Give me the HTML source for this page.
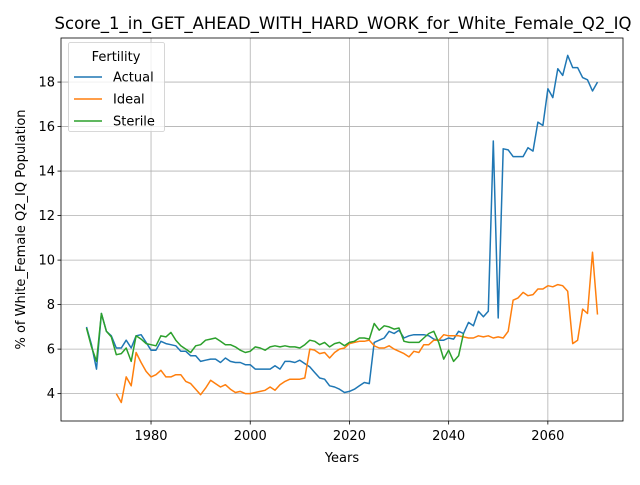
<!DOCTYPE html>
<html><head><meta charset="utf-8"><style>
body{margin:0;background:#fff;font-family:"Liberation Sans","DejaVu Sans",sans-serif;}
svg text{font-family:"DejaVu Sans","Liberation Sans",sans-serif;}
</style></head><body>
<svg id="chart" width="640" height="480" viewBox="0 0 640 480">
<rect width="640" height="480" fill="#fff"/>
<g id="grid"></g><g id="axes"></g><g id="series"></g><g id="legend"></g>
</svg>
<script>
const years=[];for(let y=1967;y<=2070;y++)years.push(y);
const actual=[7.0,6.2,5.1,7.6,6.8,6.6,6.05,6.05,6.4,6.05,6.6,6.65,6.3,5.95,5.95,6.35,6.25,6.2,6.15,5.9,5.9,5.7,5.7,5.45,5.5,5.55,5.55,5.4,5.6,5.45,5.4,5.4,5.3,5.3,5.1,5.1,5.1,5.1,5.25,5.1,5.45,5.45,5.4,5.5,5.35,5.2,4.95,4.7,4.65,4.35,4.3,4.2,4.05,4.1,4.2,4.35,4.5,4.45,6.3,6.4,6.5,6.8,6.7,6.85,6.5,6.6,6.65,6.65,6.65,6.6,6.45,6.4,6.4,6.5,6.45,6.8,6.7,7.2,7.05,7.7,7.45,7.7,15.35,7.4,15.0,14.95,14.65,14.65,14.65,15.05,14.9,16.2,16.05,17.7,17.3,18.6,18.3,19.2,18.65,18.65,18.2,18.1,17.6,18.0];
const idealStart=1973;
const ideal=[4.0,3.6,4.75,4.35,5.85,5.4,5.0,4.75,4.85,5.05,4.75,4.75,4.85,4.85,4.55,4.45,4.2,3.95,4.25,4.6,4.45,4.3,4.4,4.2,4.05,4.1,4.0,4.0,4.05,4.1,4.15,4.3,4.15,4.4,4.55,4.65,4.65,4.65,4.7,6.0,5.95,5.8,5.85,5.6,5.85,6.0,6.05,6.25,6.3,6.35,6.35,6.4,6.15,6.05,6.05,6.15,6.0,5.9,5.8,5.65,5.9,5.85,6.2,6.2,6.4,6.4,6.65,6.6,6.6,6.6,6.55,6.5,6.5,6.6,6.55,6.6,6.5,6.55,6.5,6.8,8.2,8.3,8.55,8.4,8.45,8.7,8.7,8.85,8.8,8.9,8.85,8.6,6.25,6.4,7.8,7.6,10.35,7.55];
const sterile=[6.95,6.1,5.45,7.6,6.8,6.55,5.75,5.8,6.05,5.45,6.6,6.45,6.25,6.2,6.15,6.6,6.55,6.75,6.4,6.15,6.0,5.85,6.15,6.2,6.4,6.45,6.5,6.35,6.2,6.2,6.1,5.95,5.85,5.9,6.1,6.05,5.95,6.1,6.15,6.1,6.15,6.1,6.1,6.05,6.2,6.4,6.35,6.2,6.3,6.1,6.25,6.3,6.15,6.3,6.35,6.5,6.5,6.45,7.15,6.85,7.05,7.0,6.9,6.95,6.35,6.3,6.3,6.3,6.5,6.7,6.8,6.3,5.55,5.95,5.45,5.7,6.7];
const xTicks=[1980,2000,2020,2040,2060];
const yTicks=[4,6,8,10,12,14,16,18];
const L=61,R=623,T=38,B=421,X0=1961.85,X1=2075.15,Y0=2.77,Y1=19.98;
const xs=v=>L+(v-X0)/(X1-X0)*(R-L);
const ys=v=>B-(v-Y0)/(Y1-Y0)*(B-T);
const NS='http://www.w3.org/2000/svg';
function mk(tag,attrs,parent,text){const e=document.createElementNS(NS,tag);for(const k in attrs)e.setAttribute(k,attrs[k]);if(text!==undefined)e.textContent=text;parent.appendChild(e);return e;}
const grid=document.getElementById('grid'),axes=document.getElementById('axes'),series=document.getElementById('series'),legend=document.getElementById('legend');
xTicks.forEach(t=>{const x=xs(t);
const g=mk('line',{x1:x,x2:x,y1:T,y2:B,stroke:'#b0b0b0','stroke-width':0.8},grid);

mk('line',{x1:x,x2:x,y1:B,y2:B+3.5,stroke:'#000','stroke-width':0.8},axes);
const tl=mk('text',{x:x,y:B+19,'font-size':13,'text-anchor':'middle'},axes,t);
});
yTicks.forEach(t=>{const y=ys(t);
const g=mk('line',{x1:L,x2:R,y1:y,y2:y,stroke:'#b0b0b0','stroke-width':0.8},grid);

mk('line',{x1:L-3.5,x2:L,y1:y,y2:y,stroke:'#000','stroke-width':0.8},axes);
const tl=mk('text',{x:L-6,y:y+4.5,'font-size':13,'text-anchor':'end'},axes,t);
});
const fr=mk('rect',{x:L,y:T,width:R-L,height:B-T,fill:'none',stroke:'#000','stroke-width':0.8},axes);

const tt=mk('text',{x:343,y:29,'font-size':16.5,'text-anchor':'middle'},axes,'Score_1_in_GET_AHEAD_WITH_HARD_WORK_for_White_Female_Q2_IQ');

const xt=mk('text',{x:(L+R)/2,y:462,'font-size':13,'text-anchor':'middle'},axes,'Years');

const yt=mk('text',{x:0,y:0,'font-size':13,'text-anchor':'middle',transform:`translate(25,${(T+B)/2}) rotate(-90)`},axes,'% of White_Female Q2_IQ Population');

function line(vals,start,color,name){const pts=vals.map((v,i)=>xs(start+i).toFixed(1)+','+ys(v).toFixed(1)).join(' ');
const p=mk('polyline',{points:pts,fill:'none',stroke:color,'stroke-width':1.5,'stroke-linejoin':'round'},series);
}
line(actual,1967,'#1f77b4','actual-line');
line(ideal,idealStart,'#ff7f0e','ideal-line');
line(sterile,1967,'#2ca02c','sterile-line');
const lb=mk('rect',{x:68.5,y:42.5,width:96,height:89,rx:2,fill:'#fff','fill-opacity':0.8,stroke:'#ccc','stroke-width':0.8},legend);

const lt=mk('text',{x:116,y:61,'font-size':13,'text-anchor':'middle'},legend,'Fertility');

[['Actual','#1f77b4',77],['Ideal','#ff7f0e',99],['Sterile','#2ca02c',121]].forEach(([n,c,y])=>{
const g=mk('g',{},legend);

mk('line',{x1:74,x2:102,y1:y,y2:y,stroke:c,'stroke-width':1.5},g);
mk('text',{x:113,y:y+4.5,'font-size':13},g,n);});
</script>
</body></html>
